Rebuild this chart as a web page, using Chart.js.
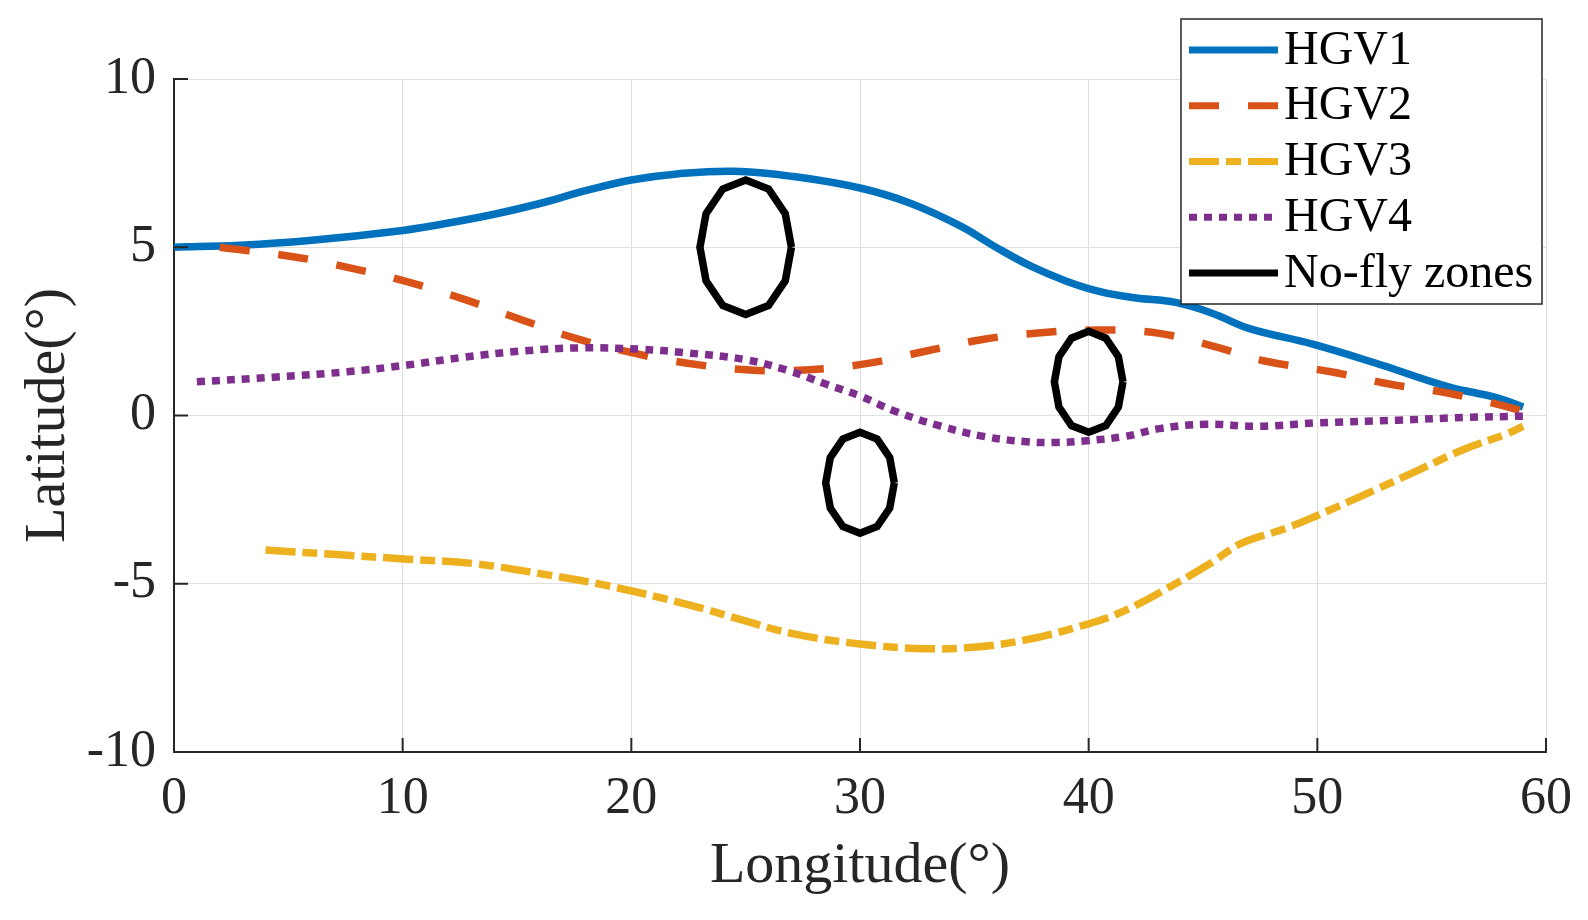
<!DOCTYPE html>
<html>
<head>
<meta charset="utf-8">
<title>HGV trajectories and no-fly zones</title>
<script src="https://cdn.jsdelivr.net/npm/chart.js@4.4.1/dist/chart.umd.min.js"></script>
<style>
  html, body { margin: 0; padding: 0; background: #ffffff; }
  #wrap { width: 1588px; height: 920px; }
</style>
</head>
<body>
<div id="wrap"><canvas id="trackChart" width="1588" height="920"></canvas></div>
<script>
// tick labels
const xTickValues = [0, 10, 20, 30, 40, 50, 60];
const yTickValues = [-10, -5, 0, 5, 10];

// series names
const seriesNames = ['HGV1', 'HGV2', 'HGV3', 'HGV4'];
const zoneLabel = 'No-fly zones';

// trajectories (longitude / latitude in degrees)
const hgv1Lon = [0, 2.9, 5.8, 10, 12, 14, 16, 18, 20, 22, 24.5, 27.1, 30, 32.2, 34.4, 36, 37.5, 39, 40.5, 42, 43.8, 45.4, 47, 49.8, 52.8, 55.7, 57.9, 59];
const hgv1Lat = [5.0, 5.06, 5.19, 5.5, 5.72, 5.98, 6.3, 6.68, 7.0, 7.18, 7.26, 7.1, 6.76, 6.31, 5.63, 4.98, 4.43, 4.0, 3.68, 3.5, 3.36, 3.04, 2.59, 2.12, 1.5, 0.86, 0.52, 0.25];

const hgv2Lon = [2, 5.21, 7.74, 10.23, 12.7, 15.1, 17.57, 20.07, 22.3, 25.2, 27.8, 30.35, 32.85, 35.36, 37.9, 40.6, 43.1, 45.6, 47.7, 50.6, 53.2, 55.75, 58.2, 59];
const hgv2Lat = [5.0, 4.72, 4.38, 3.97, 3.45, 2.87, 2.29, 1.86, 1.57, 1.35, 1.36, 1.55, 1.91, 2.26, 2.46, 2.54, 2.44, 2.03, 1.62, 1.30, 0.93, 0.66, 0.28, 0.12];

const hgv3Lon = [4, 7.28, 10.2, 13.1, 16, 18.9, 22.6, 24.9, 27.1, 30, 32.9, 35.1, 37.3, 40, 41.6, 43.8, 45.4, 46.65, 48.6, 50, 52.5, 54.4, 56.4, 58.3, 59];
const hgv3Lat = [-4.0, -4.14, -4.27, -4.4, -4.7, -5.05, -5.64, -6.09, -6.49, -6.79, -6.93, -6.88, -6.66, -6.19, -5.79, -5.0, -4.36, -3.81, -3.36, -2.97, -2.22, -1.63, -1.01, -0.54, -0.32];

const hgv4Lon = [1, 4.37, 7.57, 10.2, 12.66, 15.3, 17.8, 20.4, 22.3, 24.9, 26.8, 28.56, 30, 31.6, 33.5, 35.4, 37.3, 38.6, 39.9, 41.6, 43.1, 45.1, 47.4, 50, 53.5, 56.4, 59];
const hgv4Lat = [1.0, 1.14, 1.30, 1.50, 1.73, 1.92, 2.01, 1.97, 1.87, 1.67, 1.35, 0.92, 0.58, 0.11, -0.31, -0.62, -0.78, -0.80, -0.75, -0.62, -0.39, -0.26, -0.32, -0.22, -0.14, -0.06, -0.02];

// no-fly zones: centre and radius (degrees)
const zoneLon = [25, 30, 40];
const zoneLat = [5, -2, 1];
const zoneRadius = [2, 1.5, 1.5];

const colors = ['#0072BD', '#D95319', '#EDB120', '#7E2F8E'];
const dashes = [[], [30, 29], [30, 7, 15, 7], [8, 7]];
const axisColor = '#262626';
const lineW = 7.5;

function toPoints(lon, lat) {
  return lon.map((x, i) => ({ x: x, y: lat[i] }));
}

// each zone is drawn as a 12-sided outline around its centre
function zoneOutline(k) {
  const pts = [];
  for (let a = 0; a <= 360; a += 30) {
    const r = a * Math.PI / 180;
    pts.push({ x: zoneLon[k] + zoneRadius[k] * Math.cos(r), y: zoneLat[k] + zoneRadius[k] * Math.sin(r) });
  }
  return pts;
}

const tracks = [[hgv1Lon, hgv1Lat], [hgv2Lon, hgv2Lat], [hgv3Lon, hgv3Lat], [hgv4Lon, hgv4Lat]];

const datasets = tracks.map((t, i) => ({
  label: seriesNames[i],
  data: toPoints(t[0], t[1]),
  showLine: true,
  borderColor: colors[i],
  borderWidth: lineW,
  borderDash: dashes[i],
  borderCapStyle: 'butt',
  borderJoinStyle: 'round',
  tension: 0.4,
  pointRadius: 0,
  pointHoverRadius: 0,
  order: 4 - i
}));

zoneLon.forEach((_, k) => {
  datasets.push({
    label: zoneLabel,
    data: zoneOutline(k),
    showLine: true,
    borderColor: '#000000',
    borderWidth: lineW,
    borderJoinStyle: 'miter',
    tension: 0,
    pointRadius: 0,
    pointHoverRadius: 0,
    order: 0
  });
});

// inward tick marks and the boxed legend in the upper right
const matlabLook = {
  id: 'matlabLook',
  afterDraw(chart) {
    const { ctx, chartArea: a, scales } = chart;
    ctx.save();
    ctx.strokeStyle = axisColor;
    ctx.lineWidth = 2;
    ctx.beginPath();
    xTickValues.forEach(v => {
      const p = scales.x.getPixelForValue(v);
      ctx.moveTo(p, a.bottom);
      ctx.lineTo(p, a.bottom - 14);
    });
    yTickValues.forEach(v => {
      const p = scales.y.getPixelForValue(v);
      ctx.moveTo(a.left, p);
      ctx.lineTo(a.left + 14, p);
    });
    ctx.stroke();

    const bx = a.right - 365, by = a.top - 60, bw = 361, bh = 285;
    ctx.fillStyle = '#ffffff';
    ctx.fillRect(bx, by, bw, bh);
    ctx.strokeStyle = axisColor;
    ctx.lineWidth = 1.5;
    ctx.strokeRect(bx, by, bw, bh);

    const entries = seriesNames.map((n, i) => ({ label: n, color: colors[i], dash: dashes[i] }));
    entries.push({ label: zoneLabel, color: '#000000', dash: [] });
    ctx.font = '48px "Liberation Serif"';
    ctx.textBaseline = 'middle';
    ctx.textAlign = 'left';
    entries.forEach((e, i) => {
      const cy = by + 31 + i * 55.75;
      ctx.save();
      ctx.beginPath();
      ctx.rect(bx + 8, cy - 6, 89, 12);
      ctx.clip();
      ctx.setLineDash(e.dash);
      ctx.lineCap = 'butt';
      ctx.strokeStyle = e.color;
      ctx.lineWidth = 7;
      ctx.beginPath();
      ctx.moveTo(bx + 8, cy);
      ctx.lineTo(bx + 97, cy);
      ctx.stroke();
      ctx.restore();
      ctx.fillStyle = '#000000';
      ctx.fillText(e.label, bx + 103, cy + 1);
    });
    ctx.restore();
  }
};

Chart.defaults.font.family = '"Liberation Serif", "Times New Roman", serif';
Chart.defaults.color = axisColor;

new Chart(document.getElementById('trackChart').getContext('2d'), {
  type: 'scatter',
  data: { datasets: datasets },
  options: {
    responsive: false,
    devicePixelRatio: 1,
    animation: false,
    events: [],
    layout: { padding: { top: 79, right: 41, bottom: 0, left: 0 } },
    plugins: {
      legend: { display: false },
      tooltip: { enabled: false }
    },
    scales: {
      x: {
        type: 'linear',
        min: 0,
        max: 60,
        afterBuildTicks: s => { s.ticks = xTickValues.map(v => ({ value: v })); },
        afterFit: s => { s.height = 168; },
        ticks: { font: { size: 52 }, color: axisColor, padding: 16, maxRotation: 0 },
        grid: { color: '#dfdfdf', lineWidth: 1, drawTicks: false },
        border: { display: true, color: axisColor, width: 2 },
        title: { display: true, text: 'Longitude(°)', font: { size: 58 }, color: axisColor, padding: { top: 0, bottom: 18 } }
      },
      y: {
        type: 'linear',
        min: -10,
        max: 10,
        afterBuildTicks: s => { s.ticks = yTickValues.map(v => ({ value: v })); },
        afterFit: s => { s.width = 174; },
        ticks: { font: { size: 52 }, color: axisColor, padding: 18 },
        grid: { color: '#dfdfdf', lineWidth: 1, drawTicks: false },
        border: { display: true, color: axisColor, width: 2 },
        title: { display: true, text: 'Latitude(°)', font: { size: 58 }, color: axisColor, padding: { top: 14, bottom: 0 } }
      }
    }
  },
  plugins: [matlabLook]
});
</script>
</body>
</html>
